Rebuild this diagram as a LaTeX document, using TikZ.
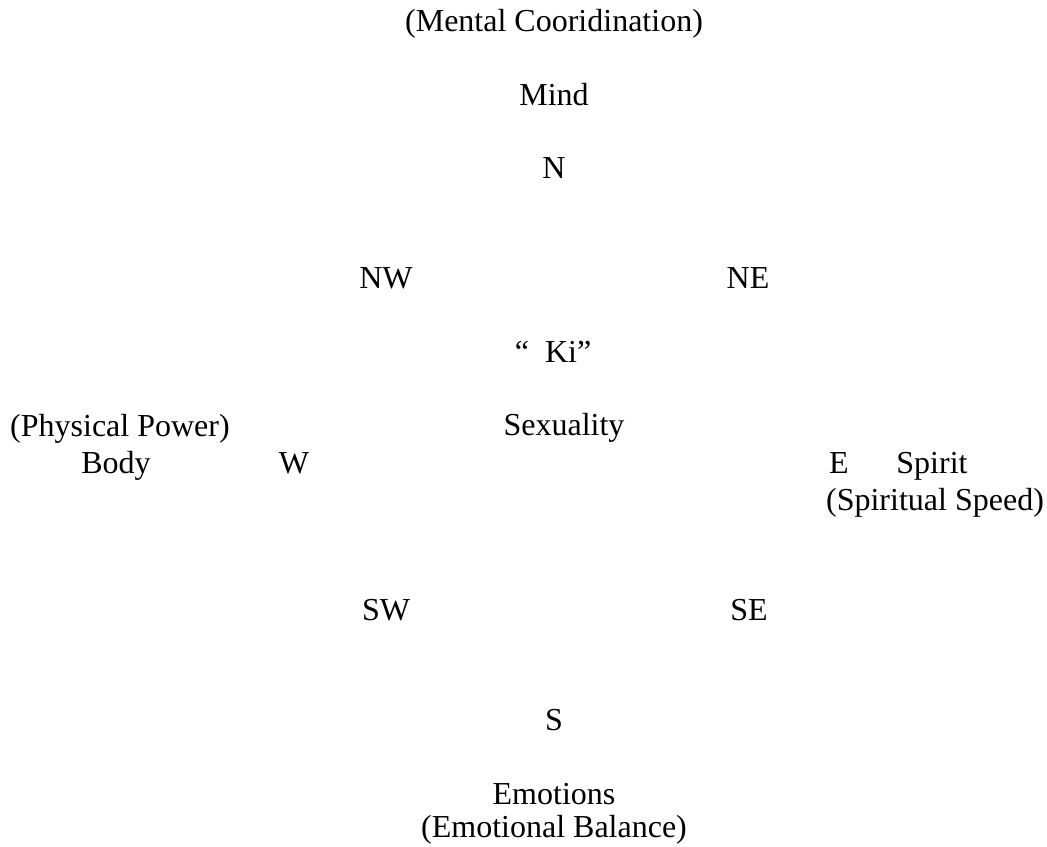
\documentclass[tikz,border=0pt]{standalone}
\usepackage{fontspec}
\setmainfont{Liberation Serif}
\usepackage{tikz}

\begin{document}
\begin{tikzpicture}[
    x=0.5pt, y=-0.5pt,
    label/.style={
        anchor=base, inner sep=0pt, font=\fontsize{16}{19}\selectfont
    }
]

\useasboundingbox (0, 0) rectangle (1047, 846);

% -------------------------
% North (Mind)
% -------------------------
\node[label] (mental) at (554, 32) {(Mental Cooridination)};
\node[label] (mind) at (554, 105) {Mind};
\node[label] (n) at (554, 178) {N};

% -------------------------
% Diagonal points
% -------------------------
\node[label] (nw) at (386, 288) {NW};
\node[label] (ne) at (748, 288) {NE};
\node[label] (sw) at (386, 620) {SW};
\node[label] (se) at (749, 620) {SE};

% -------------------------
% Centre
% -------------------------
\node[label] (ki) at (553, 362) {“\ \ Ki”};
\node[label] (sexuality) at (564, 435) {Sexuality};

% -------------------------
% West (Body)
% -------------------------
\node[label] (physical) at (120, 436) {(Physical Power)};
\node[label] (body) at (116, 473) {Body};
\node[label] (w) at (294, 473) {W};

% -------------------------
% East (Spirit)
% -------------------------
\node[label] (e) at (839, 473) {E};
\node[label] (spirit) at (932, 473) {Spirit};
\node[label] (spiritual) at (935, 510) {(Spiritual Speed)};

% -------------------------
% South (Emotions)
% -------------------------
\node[label] (s) at (554, 730) {S};
\node[label] (emotions) at (554, 804) {Emotions};
\node[label] (balance) at (554, 837) {(Emotional Balance)};

\end{tikzpicture}
\end{document}
